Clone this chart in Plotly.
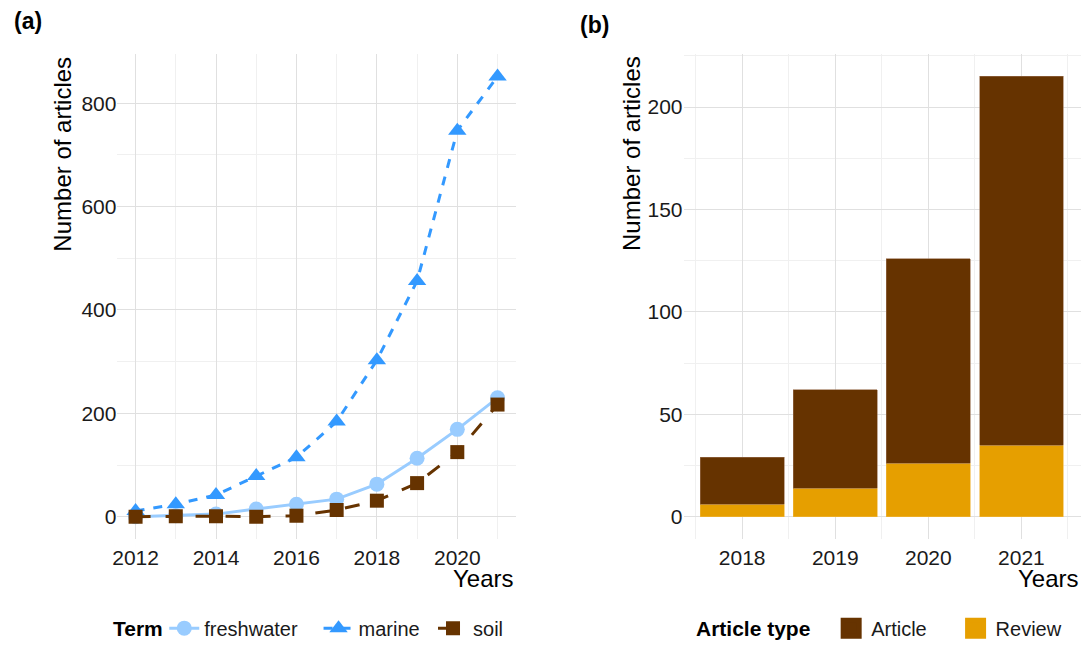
import plotly.graph_objects as go

# Panel (a): articles per year by search term
years_a = [2012, 2013, 2014, 2015, 2016, 2017, 2018, 2019, 2020, 2021]
freshwater = [0, 2, 5, 15, 24, 34, 63, 113, 169, 230]
marine = [11, 24, 42, 79, 115, 184, 303, 456, 747, 852]
soil = [0, 1, 1, 0, 2, 13, 31, 65, 125, 217]

# Panel (b): articles per year by article type
years_b = [2018, 2019, 2020, 2021]
article = [23, 48, 100, 180]
review = [6, 14, 26, 35]

FONT = "Liberation Sans, Arial, sans-serif"
GRID = "#E0E0E0"
MINOR = "#F0F0F0"
C_ARTICLE = "#663300"
C_REVIEW = "#E69F00"
W, H = 1081, 648

fig = go.Figure()

fig.add_trace(go.Scatter(
    x=years_a, y=freshwater, name="freshwater", mode="lines+markers",
    line=dict(color="#99CCFF", width=3, dash="solid"),
    marker=dict(symbol="circle", size=15, color="#99CCFF"),
    xaxis="x", yaxis="y", legend="legend"))
fig.add_trace(go.Scatter(
    x=years_a, y=marine, name="marine", mode="lines+markers",
    line=dict(color="#3399FF", width=3, dash="dash"),
    marker=dict(symbol="triangle-up", size=16, color="#3399FF"),
    xaxis="x", yaxis="y", legend="legend2"))
fig.add_trace(go.Scatter(
    x=years_a, y=soil, name="soil", mode="lines+markers",
    line=dict(color="#663300", width=3, dash="longdash"),
    marker=dict(symbol="square", size=14, color="#663300"),
    xaxis="x", yaxis="y", legend="legend3"))

fig.add_trace(go.Bar(
    x=years_b, y=review, name="Review", width=0.9, showlegend=False,
    marker=dict(color=C_REVIEW, line=dict(color="#F0B840", width=0.6)),
    xaxis="x2", yaxis="y2"))
fig.add_trace(go.Bar(
    x=years_b, y=article, name="Article", width=0.9, showlegend=False,
    marker=dict(color=C_ARTICLE, line=dict(color="#9A7050", width=0.6)),
    xaxis="x2", yaxis="y2"))

# Legend keys for the bar fills (larger squares than the default bar swatch)
for name, col, leg in [("Article", C_ARTICLE, "legend4"), ("Review", C_REVIEW, "legend5")]:
    fig.add_trace(go.Scatter(
        x=[None], y=[None], name=name, mode="markers",
        marker=dict(symbol="square", size=16, color=col, line=dict(color=col, width=5)),
        xaxis="x2", yaxis="y2", legend=leg))

tickfont = dict(family=FONT, size=21, color="#1A1A1A")
legfont = dict(family=FONT, size=20, color="#1A1A1A")
LEG_Y = 1 - 635 / H


def legend_at(px):
    return dict(orientation="h", x=px / W, xanchor="left", y=LEG_Y, yanchor="middle",
                font=legfont, bgcolor="rgba(0,0,0,0)", itemwidth=30,
                itemsizing="trace")


fig.update_layout(
    width=W, height=H,
    margin=dict(l=0, r=0, t=0, b=0),
    paper_bgcolor="white", plot_bgcolor="white",
    barmode="stack", bargap=0.1,
    font=dict(family=FONT, color="#000000"),
    showlegend=True,
    xaxis=dict(domain=[113 / W, 513 / W], range=[2011.55, 2021.45],
               tickmode="linear", tick0=2012, dtick=2,
               showgrid=True, gridcolor=GRID, gridwidth=1, zeroline=False,
               minor=dict(dtick=1, tick0=2012, showgrid=True, gridcolor=MINOR, gridwidth=1),
               tickfont=tickfont, ticks="", showline=False, anchor="y",
               ticklabelstandoff=4),
    yaxis=dict(domain=[1 - 544.6 / H, 1 - 55 / H], range=[-42.6, 894.6],
               tickmode="linear", tick0=0, dtick=200,
               showgrid=True, gridcolor=GRID, gridwidth=1, zeroline=False,
               minor=dict(dtick=100, tick0=0, showgrid=True, gridcolor=MINOR, gridwidth=1),
               tickfont=tickfont, ticks="", showline=False, anchor="x"),
    xaxis2=dict(domain=[681.7 / W, 1.0], range=[2017.37, 2021.64],
                tickmode="array", tickvals=years_b, ticktext=[str(y) for y in years_b],
                showgrid=True, gridcolor=GRID, gridwidth=1, zeroline=False,
                minor=dict(tickmode="array", tickvals=[2017.5, 2018.5, 2019.5, 2020.5, 2021.5],
                           showgrid=True, gridcolor=MINOR, gridwidth=1),
                tickfont=tickfont, ticks="", showline=False, anchor="y2",
                ticklabelstandoff=4),
    yaxis2=dict(domain=[1 - 544.6 / H, 1 - 55 / H], range=[-10.75, 225.75],
                tickmode="linear", tick0=0, dtick=50,
                showgrid=True, gridcolor=GRID, gridwidth=1, zeroline=False,
                minor=dict(dtick=25, tick0=0, showgrid=True, gridcolor=MINOR, gridwidth=1),
                tickfont=tickfont, ticks="", showline=False, anchor="x2"),
    legend=legend_at(160),
    legend2=legend_at(315),
    legend3=legend_at(430),
    legend4=legend_at(830),
    legend5=legend_at(955),
)

title_font = dict(family=FONT, size=24, color="#000000")
bold21 = dict(family=FONT, size=21, color="#000000")
annotations = [
    dict(text="<b>(a)</b>", x=7 / W, y=1 - 21 / H, xref="paper", yref="paper",
         xanchor="left", yanchor="middle", showarrow=False, font=dict(family=FONT, size=23)),
    dict(text="<b>(b)</b>", x=576 / W, y=1 - 25 / H, xref="paper", yref="paper",
         xanchor="left", yanchor="middle", showarrow=False, font=dict(family=FONT, size=23)),
    dict(text="Number of articles", textangle=-90, x=58 / W, y=1 - 55 / H,
         xref="paper", yref="paper", xanchor="center", yanchor="top",
         showarrow=False, font=title_font),
    dict(text="Number of articles", textangle=-90, x=630 / W, y=1 - 55 / H,
         xref="paper", yref="paper", xanchor="center", yanchor="top",
         showarrow=False, font=title_font),
    dict(text="Years", x=513 / W, y=1 - 585 / H, xref="paper", yref="paper",
         xanchor="right", yanchor="middle", showarrow=False, font=title_font),
    dict(text="Years", x=1.0, y=1 - 585 / H, xref="paper", yref="paper",
         xanchor="right", yanchor="middle", showarrow=False, font=title_font),
    dict(text="<b>Term</b>", x=106 / W, y=LEG_Y, xref="paper", yref="paper",
         xanchor="left", yanchor="middle", showarrow=False, font=bold21),
    dict(text="<b>Article type</b>", x=692 / W, y=LEG_Y, xref="paper", yref="paper",
         xanchor="left", yanchor="middle", showarrow=False, font=bold21),
]
fig.update_layout(annotations=annotations)

fig.write_html("out.html")
